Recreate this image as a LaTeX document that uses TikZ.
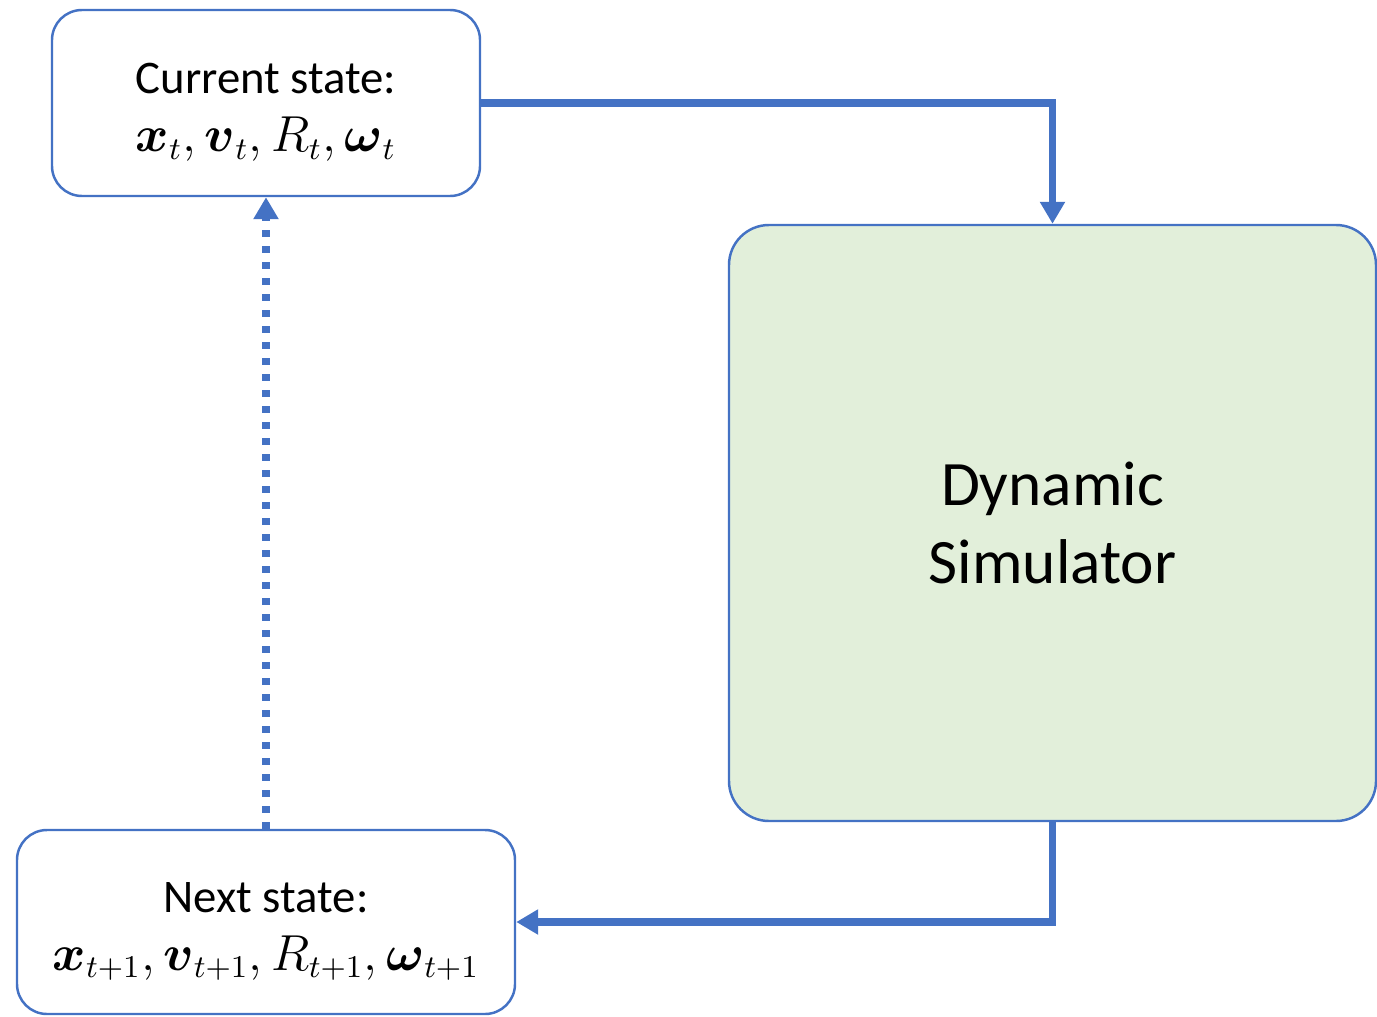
\documentclass[tikz,border=0pt]{standalone}
\usepackage{amsmath}
\usepackage{fontspec}
\setmainfont{Carlito}
\usetikzlibrary{arrows.meta}
\definecolor{lineblue}{HTML}{4472C4}
\definecolor{simgreen}{HTML}{E2EFDA}
\tikzstyle{state} = [rectangle, rounded corners=0.3cm, draw=lineblue, line width=0.7pt, fill=white, align=center, font=\fontsize{13.3pt}{16.5pt}\selectfont]
\tikzstyle{sim} = [rectangle, rounded corners=0.4cm, draw=lineblue, line width=0.7pt, fill=simgreen, align=center, font=\fontsize{18pt}{22pt}\selectfont]
\tikzstyle{arrow} = [draw=lineblue, line width=2pt, -{Triangle[length=0.22cm,width=0.24cm]}]
\tikzstyle{loopback} = [arrow, dash pattern=on 0.07cm off 0.09cm]

\begin{document}
\begin{tikzpicture}
    \useasboundingbox (0,0) rectangle (13.77,-10.16);
    \node [state, minimum width=4.28cm, minimum height=1.86cm] at (2.66,-1.03) (current) {\rule{0pt}{14pt}Current state:\\ $\boldsymbol{x}_t, \boldsymbol{v}_t, R_t, \boldsymbol{\omega}_t$};
    \node [sim, minimum width=6.47cm, minimum height=5.96cm] at (10.525,-5.23) (simulator) {Dynamic\\Simulator};
    \node [state, minimum width=4.98cm, minimum height=1.84cm] at (2.66,-9.22) (next) {\rule{0pt}{14pt}Next state:\\ $\boldsymbol{x}_{t+1}, \boldsymbol{v}_{t+1}, R_{t+1}, \boldsymbol{\omega}_{t+1}$};
    \draw [arrow] (current.east) -| (simulator.north);
    \draw [arrow] (simulator.south) |- (next.east);
    \draw [loopback] (next.north) -- (current.south);
\end{tikzpicture}
\end{document}
